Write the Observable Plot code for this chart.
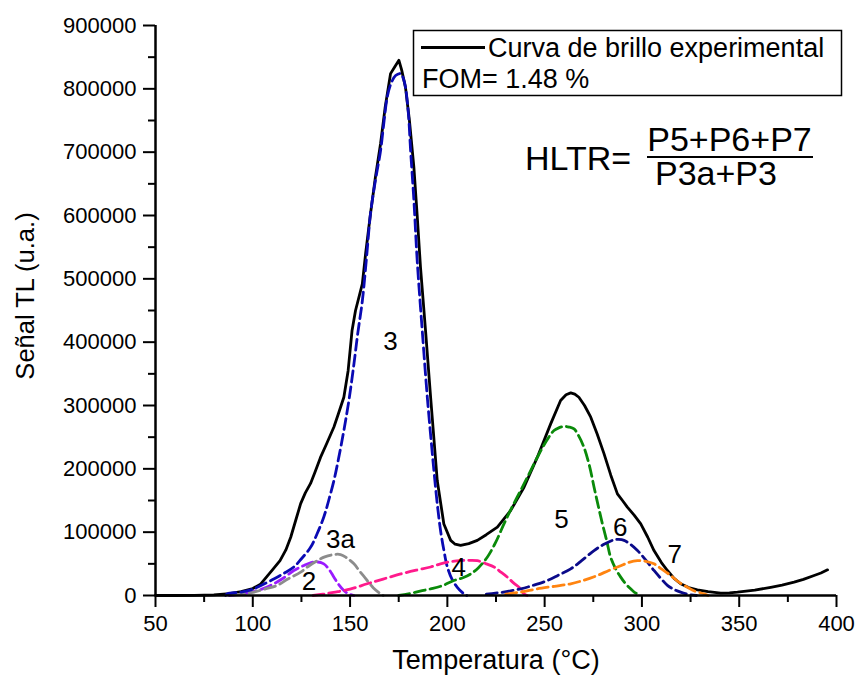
<!DOCTYPE html>
<html>
<head>
<meta charset="utf-8">
<script src="https://cdn.jsdelivr.net/npm/d3@7"></script>
<script src="https://cdn.jsdelivr.net/npm/@observablehq/plot@0.6"></script>
<style>
  html, body { margin: 0; padding: 0; background: white; }
  #chart { position: relative; width: 855px; height: 675px; }
</style>
</head>
<body>
<div id="chart"></div>
<script>
// ---- Data ----
const expT = [50, 60, 70, 80, 88, 94, 100, 104, 107, 110, 114, 117, 119.5, 122, 124.6, 127, 129.7, 132, 134.8, 138, 141.7, 144, 146.8, 149, 151, 152.8, 156.3, 158, 160.5, 163, 165.7, 168, 170.8, 173, 175.1, 176.5, 178.5, 180.5, 182.8, 184.5, 186.2, 188.8, 191.4, 194.8, 198.2, 201.7, 204, 206.8, 211, 215.4, 220, 225.7, 232.5, 239.4, 246.2, 253.1, 258.2, 261, 263.4, 265.5, 267.6, 270.5, 273.7, 277, 280.5, 284, 287.4, 290, 292.5, 296, 299.4, 303, 306.2, 310, 313.1, 316.5, 319.9, 324, 328.5, 334, 340.5, 345, 349.1, 358, 366.2, 372, 378.2, 383, 388.5, 392, 395.4];
const expS = [0, 0, 300, 1000, 3000, 6000, 11000, 18000, 29000, 40000, 55000, 72000, 92000, 118000, 145000, 162000, 177000, 195000, 218000, 240000, 266000, 287000, 313000, 355000, 418000, 450000, 492000, 540000, 603000, 660000, 714000, 770000, 824000, 835000, 845000, 830000, 802000, 750000, 676000, 600000, 518000, 418000, 313000, 181500, 113000, 87000, 81000, 79000, 82000, 87000, 96000, 108000, 134000, 171000, 218000, 271000, 308000, 317000, 320000, 318000, 313000, 300000, 281500, 255000, 224000, 190000, 160500, 150000, 139500, 127000, 113000, 92000, 71000, 52000, 39500, 27000, 18500, 12500, 9000, 6000, 3700, 4200, 5300, 8500, 13000, 16500, 21000, 25500, 31500, 35500, 40500];

const p2T = [88, 95, 100, 105, 110.8, 116, 121.1, 126, 130, 133, 136.5, 139, 141.7, 144, 146.8, 149, 152];
const p2S = [0, 2500, 6000, 10500, 18500, 28000, 39500, 47000, 52000, 53000, 50000, 42000, 29000, 18000, 8000, 3000, 0];

const p3aT = [90, 95, 100, 106, 112.5, 118, 124.6, 129, 133.2, 137, 141.7, 145.1, 148, 152, 155, 158.8, 162, 165.7, 167];
const p3aS = [1000, 2500, 5000, 10000, 16000, 26000, 37000, 47000, 55000, 61000, 64700, 64700, 60000, 50000, 38000, 23700, 12000, 2600, 0];

const p3T = [86, 87, 94, 100.5, 105, 110.8, 116, 121.1, 125, 129.7, 133, 136.5, 139, 141.7, 144, 146.8, 149.5, 152, 154, 156.3, 158.5, 160.5, 163, 165.7, 167.5, 169.1, 171, 173.4, 176, 177.5, 178.5, 180, 181.1, 182.8, 184.5, 187.1, 189.7, 191.5, 193.1, 194.8, 196.5, 198.3, 200, 202.5, 205.1, 208.5, 210];
const p3S = [0, 2600, 5500, 10500, 17000, 26000, 35000, 45000, 58000, 76000, 97000, 124000, 150000, 181500, 215000, 260500, 310000, 366000, 415000, 465000, 535000, 603000, 655000, 703000, 750000, 787000, 808000, 821000, 824000, 815000, 802000, 760000, 703000, 624000, 529000, 418000, 313000, 250000, 197000, 145000, 102600, 70000, 45000, 25000, 13000, 2600, 0];

const p4T = [131, 136, 141.5, 150, 158.8, 167, 176, 184, 191.4, 196.5, 201, 206.8, 211, 215.4, 220, 224, 227.5, 230.8, 234, 237.7, 239.4, 241];
const p4S = [0, 2000, 5000, 10000, 18500, 26000, 34000, 40000, 45000, 50000, 53000, 55000, 55500, 55000, 50000, 45000, 37000, 29000, 20000, 10500, 2600, 0];

const p5T = [175, 180, 186, 191.4, 197, 203.4, 208, 212, 216, 220.5, 225, 229.1, 233, 237.7, 242, 246.2, 250.5, 254.8, 257.5, 260, 262.5, 265.1, 267.5, 270.2, 273, 275.4, 277.5, 279.7, 282, 283.9, 286.5, 289.1, 291.5, 294.2, 296, 297.7, 299];
const p5S = [0, 2500, 7000, 10500, 15000, 23700, 28000, 34000, 44000, 60500, 85000, 113000, 138000, 166000, 192000, 218000, 242000, 260500, 265000, 267000, 266000, 263000, 252000, 234000, 205000, 171000, 142000, 113000, 85000, 60500, 42000, 29000, 19000, 10500, 5500, 2600, 0];

const p6T = [220, 228, 237.7, 244, 251.4, 257, 263.4, 269, 275.4, 280, 285.7, 288, 290.8, 294, 297.7, 302, 306.2, 310, 313.1, 316.5, 319.9, 325, 328];
const p6S = [2000, 5000, 10500, 16000, 23700, 32000, 42000, 55000, 71000, 80000, 88000, 88500, 87000, 81000, 71000, 56000, 39500, 26000, 16000, 9500, 5300, 1000, 0];

const p7T = [230, 238, 246.2, 255, 263.4, 270, 277, 283, 289.1, 293, 297.7, 302, 306.2, 310, 314.8, 319, 323.4, 327, 332, 334];
const p7S = [2000, 5500, 10500, 14500, 18500, 24000, 31500, 39500, 47000, 52000, 55000, 54000, 50000, 42000, 31500, 21000, 13000, 7000, 2600, 0];

const peakNames = ["2", "3a", "3", "4", "5", "6", "7"];
const peakColors = ["#9a1aff", "#8c8c8c", "#0a0ab4", "#ff1a8c", "#0a8a0a", "#0a0a8a", "#ff8410"];
const peakSeries = [[p2T, p2S], [p3aT, p3aS], [p3T, p3S], [p4T, p4S], [p5T, p5S], [p6T, p6S], [p7T, p7S]];

const labelText = ["3", "3a", "2", "4", "5", "6", "7"];
const labelT = [170.8, 145.1, 128.9, 205.8, 258.6, 288.9, 316.9];
const labelS = [400000, 88400, 22100, 44200, 120000, 107400, 64700];

const xTicks = [50, 100, 150, 200, 250, 300, 350, 400];
const xMinor = [75, 125, 175, 225, 275, 325, 375];
const yTicks = [0, 100000, 200000, 300000, 400000, 500000, 600000, 700000, 800000, 900000];
const yMinor = [50000, 150000, 250000, 350000, 450000, 550000, 650000, 750000, 850000];

const xLabel = "Temperatura (°C)";
const yLabel = "Señal TL (u.a.)";
const legendLabel = "Curva de brillo experimental";
const fomText = "FOM= 1.48 %";

// ---- Build tables ----
const expData = expT.map((t, i) => ({t, s: expS[i]}));
const peakData = peakSeries.flatMap(([T, S], k) => T.map((t, i) => ({t, s: S[i], peak: peakNames[k]})));
const labels = labelText.map((txt, i) => ({txt, t: labelT[i], s: labelS[i]}));

const font = "'Liberation Sans', Arial, Helvetica, sans-serif";

const plot = Plot.plot({
  width: 855,
  height: 675,
  marginLeft: 155,
  marginRight: 19,
  marginTop: 25,
  marginBottom: 80,
  style: {fontFamily: font, fontSize: "22px", color: "black", background: "white", overflow: "visible"},
  x: {domain: [50, 400]},
  y: {domain: [0, 900000]},
  color: {domain: peakNames, range: peakColors},
  marks: [
    Plot.line(expData, {x: "t", y: "s", stroke: "black", strokeWidth: 2.8, strokeLinejoin: "round"}),
    Plot.line(peakData, {x: "t", y: "s", z: "peak", stroke: "peak", strokeWidth: 2.8, strokeDasharray: "11,5", curve: "catmull-rom"}),
    Plot.text(labels, {x: "t", y: "s", text: "txt", fontSize: 26, textAnchor: "middle", lineAnchor: "middle", fill: "black"}),
    Plot.axisX(xTicks, {tickSize: 12, tickPadding: 8, strokeWidth: 2, label: null, tickFormat: d => String(d)}),
    Plot.axisX(xMinor, {tickSize: 7, strokeWidth: 2, label: null, tickFormat: () => ""}),
    Plot.axisY(yTicks, {tickSize: 12, tickPadding: 7, strokeWidth: 2, label: null, tickFormat: d => String(d)}),
    Plot.axisY(yMinor, {tickSize: 7, strokeWidth: 2, label: null, tickFormat: () => ""}),
    Plot.ruleY([0], {strokeWidth: 2.5}),
    Plot.ruleX([50], {strokeWidth: 2.5})
  ]
});

document.getElementById("chart").appendChild(plot);

// ---- Annotations (axis titles, legend, formula) ----
const svg = d3.select(plot);
const g = svg.append("g").attr("font-family", font).attr("fill", "black").attr("text-anchor", "start");

g.append("text").attr("x", 496).attr("y", 669).attr("text-anchor", "middle")
  .attr("font-size", 27).text(xLabel);
g.append("text").attr("transform", "translate(34,296) rotate(-90)").attr("text-anchor", "middle")
  .attr("font-size", 25.5).text(yLabel);

// legend box
g.append("rect").attr("x", 413.5).attr("y", 30.5).attr("width", 428).attr("height", 65)
  .attr("fill", "white").attr("stroke", "black").attr("stroke-width", 1.5);
g.append("line").attr("x1", 421).attr("x2", 485).attr("y1", 47.5).attr("y2", 47.5)
  .attr("stroke", "black").attr("stroke-width", 2.8);
g.append("text").attr("x", 488).attr("y", 57).attr("text-anchor", "start").attr("font-size", 27).text(legendLabel);
g.append("text").attr("x", 422).attr("y", 88).attr("text-anchor", "start").attr("font-size", 27).text(fomText);

// HLTR formula
g.append("text").attr("x", 525).attr("y", 170).attr("text-anchor", "start").attr("font-size", 34).text("HLTR=");
g.append("text").attr("x", 729.5).attr("y", 151).attr("text-anchor", "middle").attr("font-size", 34).text("P5+P6+P7");
g.append("line").attr("x1", 647).attr("x2", 813).attr("y1", 157).attr("y2", 157)
  .attr("stroke", "black").attr("stroke-width", 2);
g.append("text").attr("x", 716).attr("y", 185).attr("text-anchor", "middle").attr("font-size", 34).text("P3a+P3");
</script>
</body>
</html>
